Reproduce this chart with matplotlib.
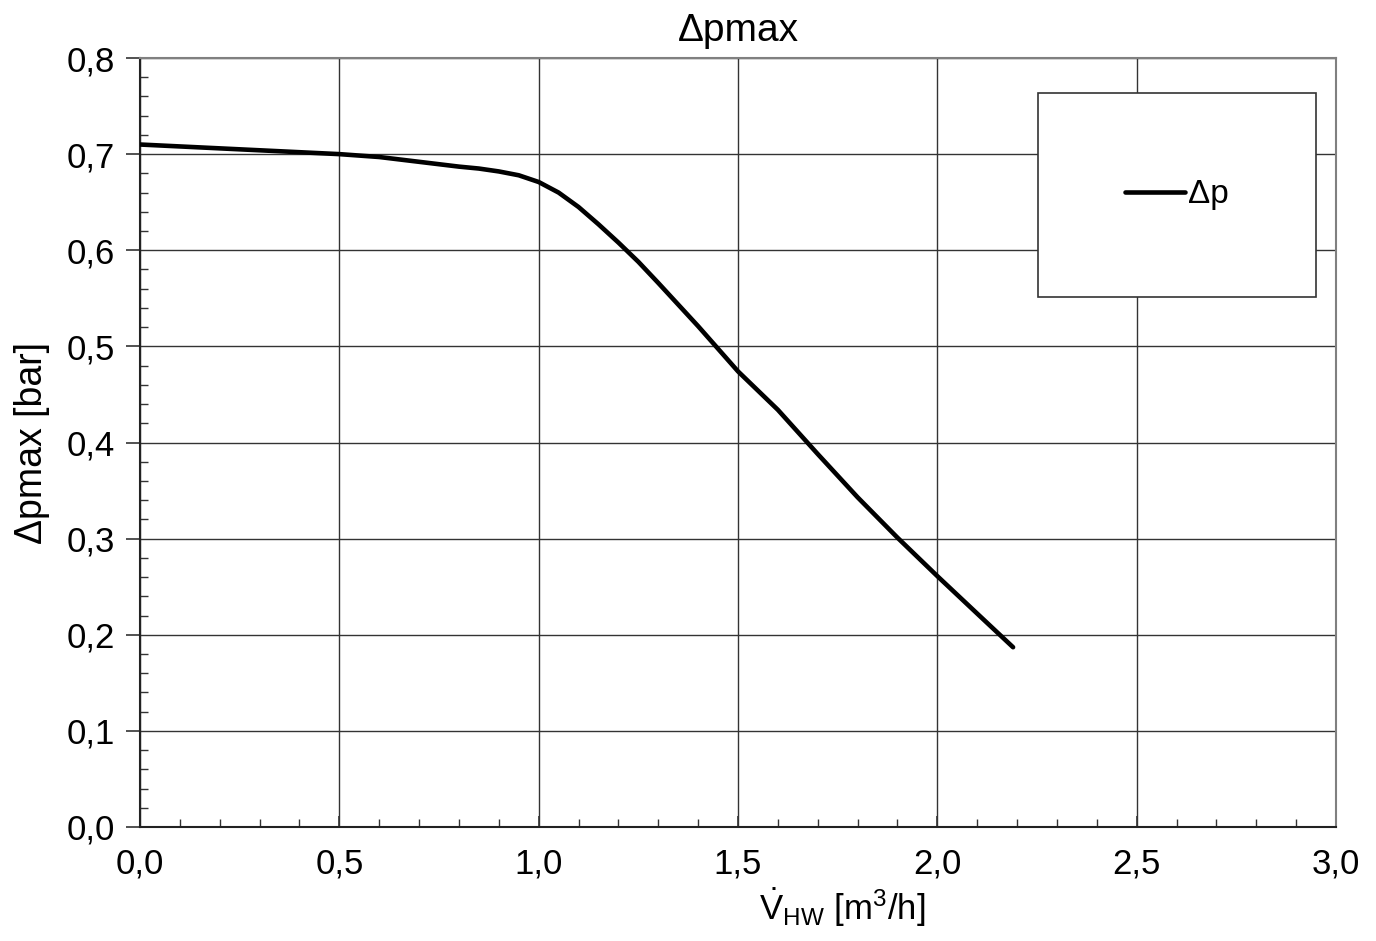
import matplotlib
matplotlib.use("Agg")
import matplotlib.pyplot as plt
from matplotlib.ticker import MultipleLocator, FuncFormatter

plt.rcParams['font.family'] = ['Liberation Sans', 'DejaVu Sans']
plt.rcParams['mathtext.fontset'] = 'custom'
plt.rcParams['mathtext.rm'] = 'Liberation Sans'
plt.rcParams['mathtext.it'] = 'Liberation Sans:italic'

# Data
flow = [0.0, 0.2, 0.4, 0.5, 0.6, 0.7, 0.8, 0.85, 0.9, 0.95, 1.0, 1.05, 1.1,
        1.15, 1.2, 1.25, 1.3, 1.4, 1.5, 1.6, 1.7, 1.8, 1.9, 2.0, 2.1, 2.19]
dp = [0.710, 0.706, 0.702, 0.700, 0.697, 0.692, 0.687, 0.685, 0.682, 0.678,
      0.671, 0.660, 0.645, 0.627, 0.608, 0.588, 0.566, 0.521, 0.474, 0.434,
      0.388, 0.343, 0.301, 0.261, 0.222, 0.187]

series_label = "Δp"
title = "Δpmax"
ylabel = "Δpmax [bar]"

fig = plt.figure(figsize=(13.76, 9.41), dpi=100)
ax = fig.add_axes([140/1376, 1-827/941, 1196/1376, 769/941])

ax.plot(flow, dp, color='black', lw=3.3, solid_capstyle='round',
        solid_joinstyle='round', label=series_label, zorder=3)

ax.set_xlim(0, 3.0)
ax.set_ylim(0, 0.8)
ax.xaxis.set_major_locator(MultipleLocator(0.5))
ax.xaxis.set_minor_locator(MultipleLocator(0.1))
ax.yaxis.set_major_locator(MultipleLocator(0.1))
ax.yaxis.set_minor_locator(MultipleLocator(0.02))
fmt = FuncFormatter(lambda v, p: f"{v:.1f}".replace('.', ','))
ax.xaxis.set_major_formatter(fmt)
ax.yaxis.set_major_formatter(fmt)

ax.grid(True, which='major', color='#333333', lw=1.0)
ax.tick_params(axis='both', which='major', labelsize=25, color='#333333')
ax.tick_params(axis='y', which='major', direction='out', length=10, width=1.2, pad=8)
ax.tick_params(axis='x', which='major', direction='in', length=8, width=1.2, pad=15)
ax.tick_params(axis='y', which='minor', direction='in', length=6, width=1.0, color='#333333')
ax.tick_params(axis='x', which='minor', direction='in', length=6, width=1.0, color='#333333')

for s in ['left', 'bottom']:
    ax.spines[s].set_color('#222222')
    ax.spines[s].set_linewidth(1.5)
for s in ['top', 'right']:
    ax.spines[s].set_color('#808080')
    ax.spines[s].set_linewidth(1.5)

ax.set_title(title, fontsize=28, pad=12)
ax.set_ylabel(ylabel, fontsize=27, labelpad=12)
ax.set_xlabel(r'$\dot{\mathrm{V}}_{\mathrm{HW}}\ [\mathrm{m}^{3}/\mathrm{h}]$', fontsize=25)
ax.xaxis.set_label_coords(0.587, -0.078)

leg = ax.legend(loc='upper right', bbox_to_anchor=(0.983, 0.955), fontsize=24,
                frameon=True, fancybox=False, borderpad=2.6, handlelength=1.8,
                handletextpad=0.1, borderaxespad=0)
leg.get_frame().set_edgecolor('#333333')
leg.get_frame().set_linewidth(1.2)
leg.get_frame().set_alpha(1)

fig.savefig('out.png', dpi=100)
